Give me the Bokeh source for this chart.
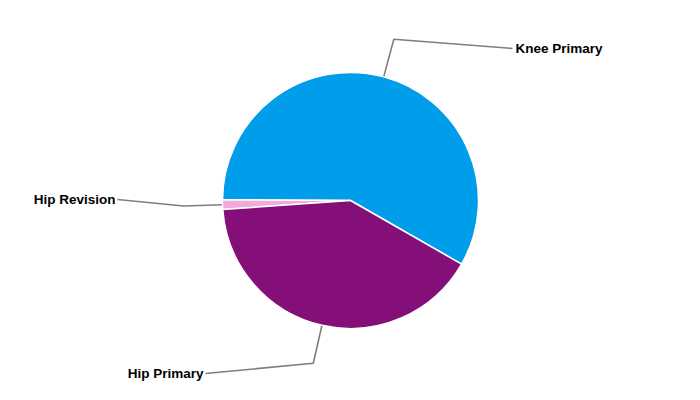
import math
from bokeh.plotting import figure
from bokeh.models import ColumnDataSource
from bokeh.core.properties import value
from bokeh.embed import file_html
from bokeh.resources import INLINE

# ---- data ----
categories = ["Knee Primary", "Hip Revision", "Hip Primary"]
shares = [58.2, 1.2, 40.6]
colors = ["#009EEA", "#F2AADC", "#850F78"]

# ---- layout ----
W, H = 684, 384
cx, cy = 350, 200          # centre in page pixels (y up: 400 - screen y)
R = 128
ELBOW = 167
start_deg = -29.8          # knee primary starts at lower right, counter-clockwise
# label anchor positions (page px, y up) per category, layout only
label_anchor = {"Knee Primary": (512, 400 - 48),
                "Hip Revision": (117, 400 - 199),
                "Hip Primary": (205, 400 - 373)}

total = sum(shares)
starts, ends, mids = [], [], []
a = math.radians(start_deg)
for s in shares:
    span = 2 * math.pi * s / total
    starts.append(a)
    ends.append(a + span)
    mids.append(a + span / 2)
    a += span

src = ColumnDataSource(dict(cat=categories, start=starts, end=ends, color=colors))

p = figure(width=W, height=H, x_range=(0, W), y_range=(400 - H, 400),
           output_backend="svg", toolbar_location=None, min_border=0)
p.axis.visible = False
p.grid.visible = False
p.outline_line_color = None
p.background_fill_color = "white"

# connectors
for cat, m in zip(categories, mids):
    x0, y0 = cx + R * math.cos(m), cy + R * math.sin(m)
    x1, y1 = cx + ELBOW * math.cos(m), cy + ELBOW * math.sin(m)
    x2, y2 = label_anchor[cat]
    p.line([x0, x1, x2], [y0, y1, y2], line_color="#7f7f7f", line_width=1.6)

p.wedge(x=cx, y=cy, radius=R, start_angle="start", end_angle="end",
        fill_color="color", line_color="white", line_width=1.5, source=src)

for cat in categories:
    x2, y2 = label_anchor[cat]
    right_side = x2 > cx
    p.text(x=[x2 + (3 if right_side else -2)], y=[y2], text=[cat],
           text_align="left" if right_side else "right",
           text_baseline="middle", text_font=value("Liberation Sans"),
           text_font_size="13.5px", text_font_style="bold", text_color="black")

open("out.html", "w").write(file_html(p, INLINE))
